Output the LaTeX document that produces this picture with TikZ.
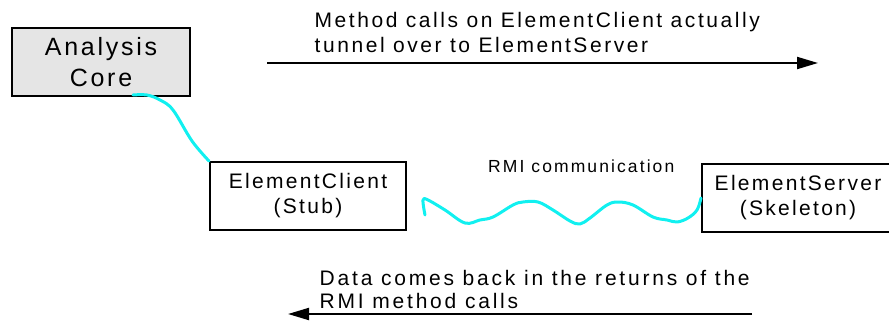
\documentclass[tikz,border=0pt]{standalone}
\usepackage{fontspec}
\setmainfont{Liberation Sans}[LetterSpace=11]
\usetikzlibrary{arrows.meta,calc}
\definecolor{boxgray}{HTML}{E5E5E5}
\definecolor{wirecyan}{HTML}{11F0F0}
\tikzset{
  box/.style={draw=black, line width=2pt, inner sep=0pt, align=center, font=\fontsize{21}{25}\selectfont},
  label/.style={inner sep=0pt, align=left, anchor=north west},
  wire/.style={draw=wirecyan, line width=3pt, line cap=round, line join=round},
  flow/.style={draw=black, line width=2pt, -{Triangle[length=21pt,width=12pt]}}
}
\begin{document}
\begin{tikzpicture}[x=1pt,y=-1pt]
\useasboundingbox (0,0) rectangle (889,321);
\clip (0,0) rectangle (889,321);
\node[box, fill=boxgray, minimum width=178pt, minimum height=68pt, font=\fontsize{25}{31}\selectfont] (core) at (101,62) {Analysis\\Core};
\node[box, minimum width=196pt, minimum height=68pt] (client) at (308,196) {ElementClient\\(Stub)};
\node[box, minimum width=192pt, minimum height=68pt] (server) at (798,198) {ElementServer\\(Skeleton)};
\node[label, font=\fontsize{21}{25}\selectfont\addfontfeature{LetterSpace=12.2}] (toptext) at (314.5,12.5) {Method calls on ElementClient actually\\tunnel over to ElementServer};
\node[label, font=\fontsize{21}{23}\selectfont\addfontfeature{LetterSpace=13.3}] (bottext) at (319.5,270) {Data comes back in the returns of the\\RMI method calls};
\node[label, font=\fontsize{17.5}{20}\selectfont\addfontfeature{LetterSpace=12}] (rmi) at (488,159.5) {RMI communication};
\coordinate (a1) at (267,63);
\coordinate (a2) at (818,63);
\coordinate (b1) at (752,314);
\coordinate (b2) at (288,314);
\draw[flow] (a1) -- (a2);
\draw[flow] (b1) -- (b2);
\draw[wire] plot[smooth, tension=0.6] coordinates {(133,95) (147,95) (160,100) (173,110) (192,141) (client.north west)};
\draw[wire] plot[smooth, tension=0.6] coordinates {(425,215) (423,200) (428,200) (445,210) (465,223) (480,220) (493,217) (513,205) (523,202) (538,202) (553,210) (570,221) (580,224) (590,218) (607,205) (618,202) (633,205) (653,217) (667,220) (677,222) (688,218) (697,210) (server.west)};
\end{tikzpicture}
\end{document}
